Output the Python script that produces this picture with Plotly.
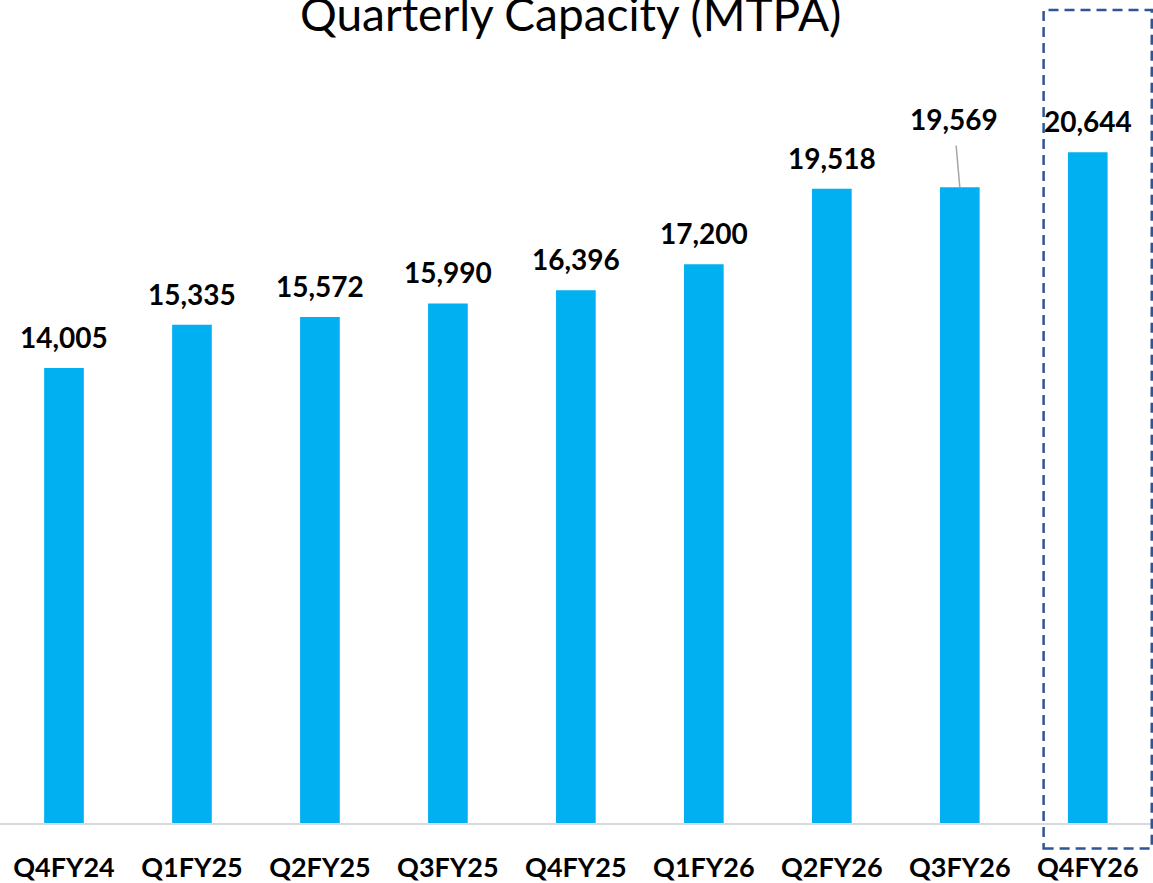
import plotly.graph_objects as go

categories = ["Q4FY24", "Q1FY25", "Q2FY25", "Q3FY25", "Q4FY25", "Q1FY26", "Q2FY26", "Q3FY26", "Q4FY26"]
capacity = [14005, 15335, 15572, 15990, 16396, 17200, 19518, 19569, 20644]
value_labels = ["14,005", "15,335", "15,572", "15,990", "16,396", "17,200", "19,518", "19,569", "20,644"]
title_text = "Quarterly Capacity (MTPA)"

BAR_COLOR = "#00B0F0"
FONT = "Lato"

fig = go.Figure()
fig.add_trace(go.Bar(
    x=categories, y=capacity,
    marker=dict(color=BAR_COLOR, line=dict(width=0)),
    hoverinfo="skip",
))

annotations = []
for i, (c, v, t) in enumerate(zip(categories, capacity, value_labels)):
    if c == "Q3FY26":
        annotations.append(dict(
            x=c, y=v, xref="x", yref="y", text=f"<b>{t}</b>",
            showarrow=True, arrowhead=0, arrowwidth=1.5, arrowcolor="#A6A6A6",
            ax=-6, ay=-68, startstandoff=8,
            font=dict(family=FONT, size=28, color="#000000"),
        ))
    else:
        annotations.append(dict(
            x=c, y=v, xref="x", yref="y", text=f"<b>{t}</b>",
            showarrow=False, yanchor="bottom", yshift=12,
            font=dict(family=FONT, size=28, color="#000000"),
        ))

annotations.append(dict(
    x=0.495, y=1, xref="paper", yref="paper", text=title_text,
    showarrow=False, yanchor="top", yshift=16,
    font=dict(family=FONT, size=46, color="#000000"),
))

fig.update_layout(
    width=1153, height=883,
    margin=dict(l=0, r=0, t=0, b=60, autoexpand=False),
    paper_bgcolor="white", plot_bgcolor="white",
    showlegend=False,
    bargap=0.69,
    annotations=annotations,
    xaxis=dict(
        showline=True, linecolor="#D9D9D9", linewidth=2,
        showgrid=False, ticks="", zeroline=False, automargin=False,
        tickfont=dict(family=FONT, size=27, color="#000000"),
        ticklabelstandoff=20,
        tickvals=categories,
        ticktext=[f"<b>{c}</b>" for c in categories],
    ),
    yaxis=dict(
        range=[0, 25330], visible=False, showgrid=False, zeroline=False,
        automargin=False,
    ),
    shapes=[dict(
        type="rect", xref="x", yref="paper",
        x0=7.655, x1=8.5, y0=-0.031, y1=0.988,
        line=dict(color="#2F5597", width=2.5, dash="10px,6px"),
        fillcolor="rgba(0,0,0,0)",
    )],
)

fig.write_html(
    "out.html",
    config={"displayModeBar": False},
    post_script="document.body.style.margin='0';document.body.style.padding='0';",
)
